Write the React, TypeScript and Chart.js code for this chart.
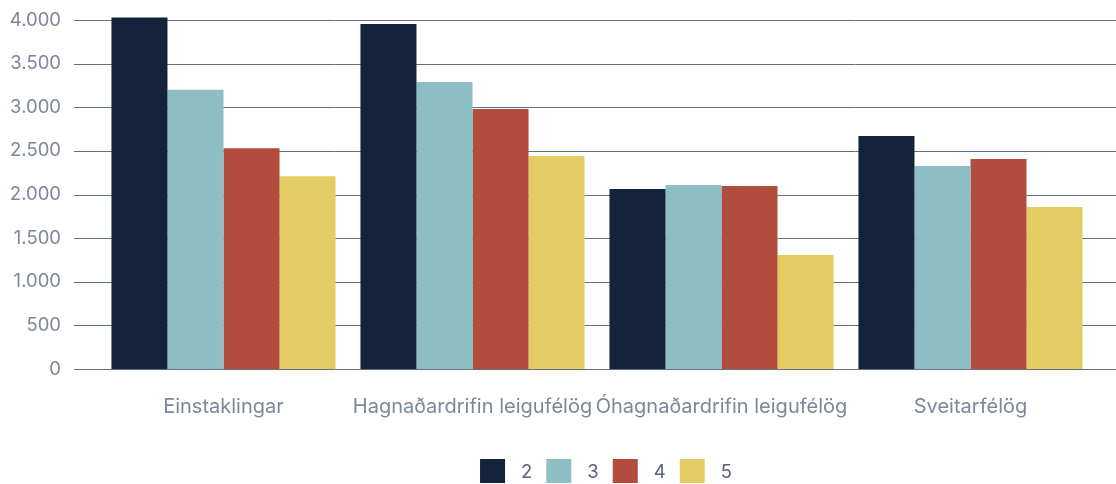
import React, { useEffect, useRef } from "react";
import { Chart, registerables } from "chart.js";

Chart.register(...registerables);

const categories = [
  "Einstaklingar",
  "Hagnaðardrifin leigufélög",
  "Óhagnaðardrifin leigufélög",
  "Sveitarfélög",
];
const seriesNames = ["2", "3", "4", "5"];
const series2 = [4030, 3955, 2063, 2670];
const series3 = [3200, 3290, 2109, 2327];
const series4 = [2530, 2980, 2097, 2407];
const series5 = [2210, 2440, 1307, 1857];
const seriesColors = ["#14233c", "#8dbec6", "#b24d3d", "#e3cc63"];
const yTicks = [0, 500, 1000, 1500, 2000, 2500, 3000, 3500, 4000];

const FONT = "Inter, 'Open Sans', sans-serif";

// Horizontal grid lines running from just right of the tick labels to the canvas edge
const wideGrid = {
  id: "wideGrid",
  beforeDatasetsDraw(chart: any) {
    const { ctx } = chart;
    const y = chart.scales.y;
    ctx.save();
    ctx.strokeStyle = "#667083";
    ctx.lineWidth = 1;
    y.ticks.forEach((t: any) => {
      const py = Math.round(y.getPixelForValue(t.value)) + 0.5;
      ctx.beginPath();
      ctx.moveTo(74, py);
      ctx.lineTo(chart.width, py);
      ctx.stroke();
    });
    ctx.restore();
  },
};

// Legend row at the bottom: square swatch followed by the series name
const bottomLegend = {
  id: "bottomLegend",
  afterDraw(chart: any) {
    const { ctx } = chart;
    const box = 25;
    const boxH = 24;
    const gap = 16;
    const itemGap = 14;
    ctx.save();
    ctx.font = `18.5px ${FONT}`;
    ctx.textBaseline = "middle";
    const items = chart.data.datasets.map((d: any) => ({
      label: d.label,
      color: d.backgroundColor,
      w: ctx.measureText(d.label).width,
    }));
    const total =
      items.reduce((s: number, it: any) => s + box + gap + it.w, 0) +
      itemGap * (items.length - 1);
    let x = 606 - total / 2;
    const cy = 471;
    items.forEach((it: any) => {
      ctx.fillStyle = it.color;
      ctx.fillRect(x, cy - boxH / 2, box, boxH);
      ctx.fillStyle = "#5a6378";
      ctx.fillText(it.label, x + box + gap, cy + 1);
      x += box + gap + it.w + itemGap;
    });
    ctx.restore();
  },
};

export default function App() {
  const ref = useRef<HTMLCanvasElement | null>(null);

  useEffect(() => {
    if (!ref.current) return;
    const values = [series2, series3, series4, series5];
    const chart = new Chart(ref.current, {
      type: "bar",
      data: {
        labels: categories,
        datasets: seriesNames.map((name, i) => ({
          label: name,
          data: values[i],
          backgroundColor: seriesColors[i],
          borderWidth: 0,
          categoryPercentage: 0.9,
          barPercentage: 1.0,
          clip: false as any,
        })),
      },
      options: {
        animation: false,
        responsive: false,
        maintainAspectRatio: false,
        layout: { padding: { top: 20, right: 21, bottom: 0, left: 0 } },
        plugins: {
          legend: { display: false },
          tooltip: { enabled: false },
        },
        scales: {
          x: {
            grid: { display: false, drawTicks: false },
            border: { display: false },
            ticks: {
              color: "#7d879b",
              font: { family: FONT, size: 20 },
              padding: 26,
              maxRotation: 0,
              autoSkip: false,
            },
            afterFit(scale: any) {
              scale.height = 115;
              scale.paddingLeft = 0;
              scale.paddingRight = 0;
            },
          },
          y: {
            min: 0,
            max: 4000,
            afterBuildTicks(scale: any) {
              scale.ticks = yTicks.map((v) => ({ value: v }));
            },
            grid: { display: false, drawTicks: false },
            border: { display: false },
            ticks: {
              color: "#7d879b",
              font: { family: FONT, size: 18.5 },
              padding: 38,
              callback: (v: any) => Number(v).toLocaleString("de-DE"),
            },
            afterFit(scale: any) {
              scale.width = 99;
              scale.paddingTop = 0;
              scale.paddingBottom = 0;
            },
          },
        },
      },
      plugins: [wideGrid, bottomLegend],
    });
    return () => chart.destroy();
  }, []);

  return (
    <div style={{ position: "absolute", left: 0, top: 0, width: 1116, height: 484, background: "#fff" }}>
      <canvas ref={ref} width={1116} height={484} style={{ width: 1116, height: 484 }} />
    </div>
  );
}
